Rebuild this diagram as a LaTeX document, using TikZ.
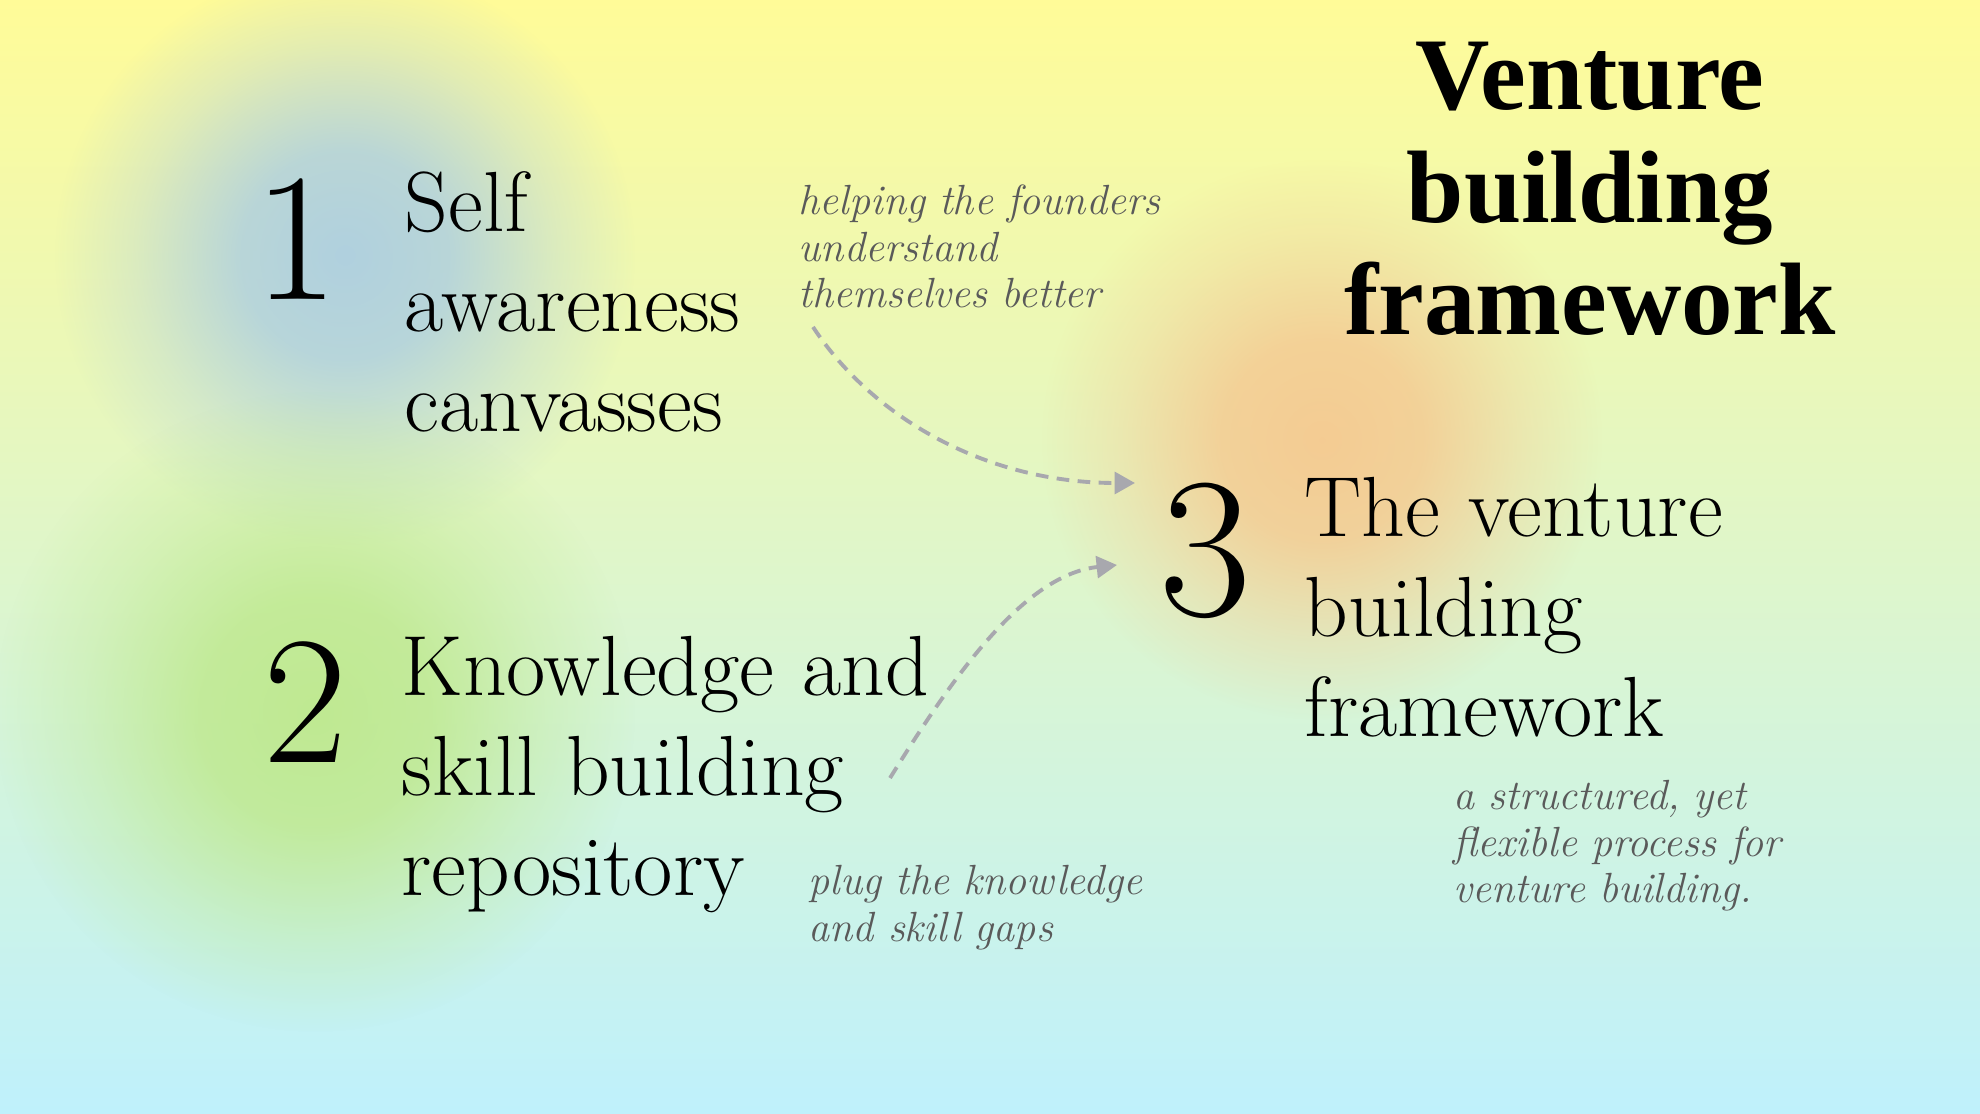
\documentclass[tikz,border=0pt]{standalone}
\usepackage{fontspec}
\usepackage{tikz}
\usetikzlibrary{arrows.meta,fadings}

\newfontfamily\titlefont{Liberation Serif}
\definecolor{topyellow}{HTML}{FFFB98}
\definecolor{midgreen}{HTML}{E3F7CC}
\definecolor{lowcyan}{HTML}{BFF1FC}
\definecolor{blobblue}{HTML}{A9CCE4}
\definecolor{blobgreen}{HTML}{BDE88A}
\definecolor{blobpeach}{HTML}{F6C78E}
\definecolor{notegray}{HTML}{5A5A5A}
\definecolor{linkgray}{HTML}{A8A8AE}

\pgfdeclareradialshading{blobshading}{\pgfpoint{0bp}{0bp}}{color(0bp)=(transparent!10);
    color(9bp)=(transparent!22); color(18bp)=(transparent!70); color(25bp)=(transparent!100);
    color(50bp)=(transparent!100)}
\pgfdeclarefading{blobfade}{\pgfuseshading{blobshading}}
\newcommand\bodyfont{\fontsize{24.3}{28.45}\selectfont\spaceskip=0.27em plus 0.1em\relax}

\begin{document}
\begin{tikzpicture}[x=0.1mm, y=-0.1mm, >={Triangle[length=5.8pt, width=6.2pt]},
    num/.style={anchor=base, inner sep=0pt, font=\fontsize{52}{52}\selectfont},
    body/.style={anchor=base west, inner sep=0pt, text width=70mm, align=left, font=\bodyfont},
    note/.style={anchor=base west, inner sep=0pt, text width=45mm, align=left,
        text=notegray, font=\fontsize{12}{13.1}\selectfont\itshape},
    heading/.style={anchor=base, inner sep=0pt, text width=70mm, align=center,
        font=\fontsize{29.3}{31.9}\selectfont\titlefont\bfseries},
    blob/.style={path fading=blobfade},
    link/.style={->, draw=linkgray, line width=1.1pt, dash pattern=on 3.6pt off 2.4pt}]

    \useasboundingbox (0,0) rectangle (1980,1114);
    \shade[top color=topyellow, middle color=midgreen, bottom color=lowcyan] (0,0) rectangle (1980,1114);
    \fill[blobblue, blob] (345,255) circle (29mm);
    \fill[blobgreen, blob] (315,712) circle (32mm);
    \fill[blobpeach, blob] (1322,440) circle (28mm);

    \node[heading] (title) at (1590,110) {Venture\\ building\\ framework};

    \node[num] (one) at (296,300) {1};
    \node[body] (selfaware) at (404,232) {Self\\ awareness\\ canvasses};
    \node[note] (selfnote) at (798,215) {helping the founders\\ understand\\ themselves better};

    \node[num] (two) at (305,763) {2};
    \node[body] (knowskill) at (401,696) {Knowledge and\\ skill building\\ repository};
    \node[note] (knownote) at (808,895) {plug the knowledge\\ and skill gaps};

    \node[num, font=\fontsize{57}{57}\selectfont] (three) at (1205,616) {3};
    \node[body] (venture) at (1304,537) {The venture\\ building\\ framework};
    \node[note] (venturenote) at (1453,810) {a structured, yet\\ flexible process for\\ venture building.};

    \coordinate (selfout) at (813,327);
    \coordinate (threetop) at (1135,483);
    \coordinate (knowout) at (890,778);
    \coordinate (threelow) at (1117,565);

    \draw[link] (selfout) .. controls +(62,94) and +(-145,0) .. (threetop);
    \draw[link] (knowout) .. controls +(55,-88) and +(-97,10) .. (threelow);
\end{tikzpicture}
\end{document}
